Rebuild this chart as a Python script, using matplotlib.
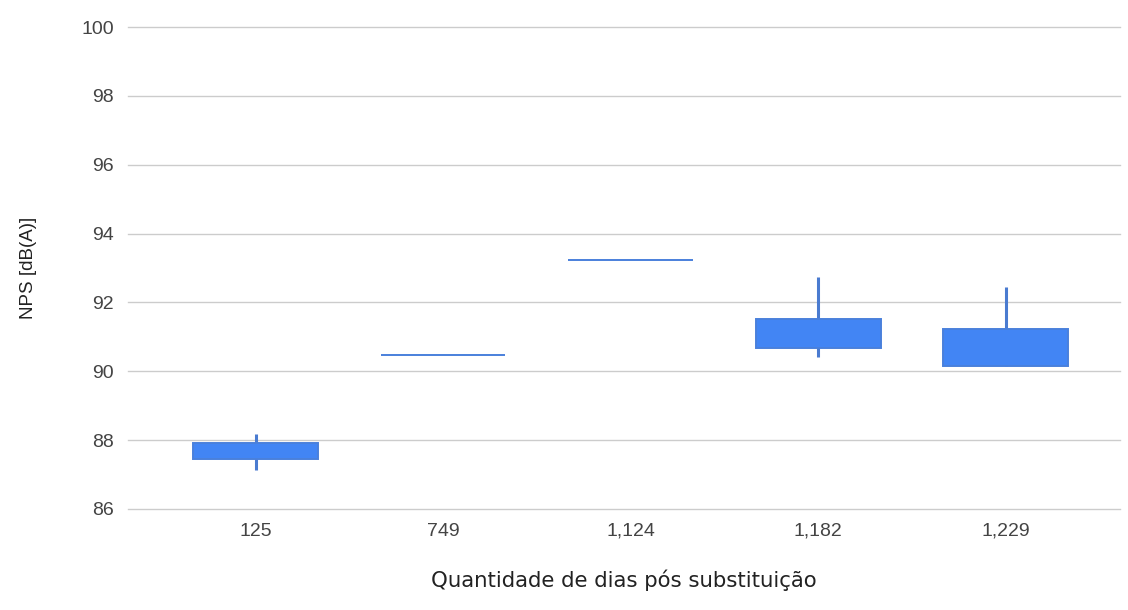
import numpy as np
import matplotlib.pyplot as plt

plt.rcParams['font.family'] = ['Liberation Sans', 'DejaVu Sans']

# Candlestick data
categories = ['125', '749', '1,124', '1,182', '1,229']
low = [87.13, 90.47, 93.23, 90.41, 90.15]
box_bottom = [87.45, 90.47, 93.23, 90.67, 90.15]
box_top = [87.92, 90.47, 93.23, 91.51, 91.23]
high = [88.18, 90.47, 93.23, 92.73, 92.44]
y_ticks = [86, 88, 90, 92, 94, 96, 98, 100]

fig = plt.figure(figsize=(11.28, 6.1), dpi=100)
ax = fig.add_axes([0.1135, 0.1656, 0.8795, 0.7901])

x = np.arange(len(categories))
heights = np.array(box_top) - np.array(box_bottom)

# wicks
ax.vlines(x, low, high, color='#4a7bd0', linewidth=2.2, zorder=2)
# bodies
ax.bar(x, heights, bottom=box_bottom, width=0.665, color='#4285f4',
       edgecolor='#4a80dc', linewidth=1.4, zorder=3)

ax.set_ylim(86, 100)
ax.set_xlim(-0.68, 4.61)
ax.set_yticks(y_ticks)
ax.set_xticks(x)
ax.set_xticklabels(categories)
ax.tick_params(axis='both', length=0, labelsize=14, colors='#444444')
ax.tick_params(axis='x', pad=10)
ax.tick_params(axis='y', pad=10)

ax.grid(axis='y', color='#cccccc', linewidth=1)
for g in ax.yaxis.get_gridlines():
    g.set_clip_on(False)
ax.set_axisbelow(True)
for s in ax.spines.values():
    s.set_visible(False)

ax.set_xlabel('Quantidade de dias pós substituição', fontsize=15.3, family='DejaVu Sans',
              color='#222222', labelpad=21)
ax.set_ylabel('NPS [dB(A)]', fontsize=13.5, color='#222222', labelpad=32)

fig.savefig('out.png', dpi=100)
